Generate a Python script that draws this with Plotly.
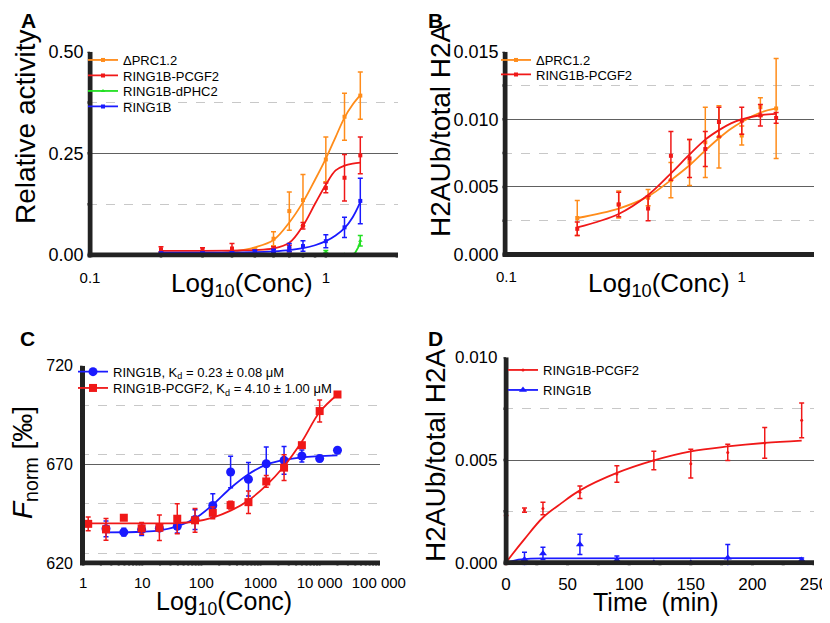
import math
import plotly.graph_objects as go

# ---------------- Panel A : relative activity ----------------
conc_a = [0.2, 0.3, 0.4, 0.5, 0.6, 0.7, 0.8, 1.0, 1.2, 1.4]
prc_a = [0.002, 0.003, 0.005, 0.012, 0.040, 0.108, 0.135, 0.235, 0.340, 0.392]
prc_a_err = [0.004, 0.004, 0.005, 0.006, 0.017, 0.047, 0.063, 0.055, 0.058, 0.058]
pcgf2_a = [0.014, 0.013, 0.016, 0.008, 0.014, 0.016, 0.072, 0.165, 0.190, 0.245]
pcgf2_a_err = [0.006, 0.005, 0.012, 0.004, 0.006, 0.008, 0.008, 0.012, 0.057, 0.045]
dphc2_a = [0.001, 0.001, 0.001, 0.001, 0.001, 0.001, 0.001, 0.008, 0.001, 0.035]
dphc2_a_err = [0.002, 0.002, 0.002, 0.002, 0.002, 0.002, 0.002, 0.003, 0.002, 0.013]
ring1b_a = [0.004, 0.004, 0.005, 0.008, 0.010, 0.018, 0.022, 0.034, 0.068, 0.133]
ring1b_a_err = [0.003, 0.003, 0.003, 0.004, 0.004, 0.010, 0.013, 0.016, 0.025, 0.056]

fit_x_a = [0.2, 0.3, 0.4, 0.5, 0.6, 0.7, 0.8, 0.9, 1.0, 1.1, 1.2, 1.3, 1.4]
prc_fit_a = [0.0, 0.001, 0.008, 0.019, 0.037, 0.080, 0.130, 0.185, 0.237, 0.290, 0.338, 0.370, 0.393]
pcgf2_fit_a = [0.010, 0.010, 0.011, 0.012, 0.016, 0.030, 0.072, 0.126, 0.173, 0.208, 0.220, 0.225, 0.227]
ring1b_fit_a = [0.006, 0.006, 0.006, 0.007, 0.009, 0.012, 0.017, 0.024, 0.034, 0.048, 0.066, 0.093, 0.130]
dphc2_fit_x = [0.2, 1.3, 1.33, 1.37, 1.4]
dphc2_fit_a = [0.002, 0.002, 0.005, 0.018, 0.033]

# ---------------- Panel B : H2AUb / total H2A ----------------
conc_b = [0.2, 0.3, 0.4, 0.5, 0.6, 0.7, 0.8, 1.0, 1.2, 1.4]
prc_b = [0.0027, 0.0037, 0.0042, 0.0055, 0.0068, 0.0083, 0.0087, 0.0088, 0.0109, 0.0108]
prc_b_err = [0.0013, 0.0010, 0.0006, 0.0013, 0.0017, 0.0026, 0.0023, 0.0007, 0.0007, 0.0037]
pcgf2_b = [0.0019, 0.0037, 0.0034, 0.0073, 0.0071, 0.0078, 0.0098, 0.0099, 0.0103, 0.0101]
pcgf2_b_err = [0.0005, 0.0009, 0.0009, 0.0018, 0.0014, 0.0013, 0.0011, 0.0010, 0.0008, 0.0004]

fit_x_b = [0.2, 0.3, 0.4, 0.5, 0.6, 0.7, 0.8, 0.9, 1.0, 1.2, 1.4]
prc_fit_b = [0.0027, 0.0034, 0.0043, 0.0055, 0.0066, 0.0077, 0.0086, 0.0093, 0.0098, 0.0105, 0.0108]
pcgf2_fit_b = [0.0020, 0.0030, 0.0044, 0.0060, 0.0074, 0.0085, 0.0092, 0.0097, 0.0100, 0.0103, 0.0104]

# ---------------- Panel C : MST binding ----------------
conc_c_blue = [2.44, 4.88, 9.77, 19.5, 39.1, 78.1, 156, 312, 625, 1250, 2500, 5000, 10000, 20000]
ring1b_c = [637.3, 635.6, 636.9, 637.6, 638.6, 642.0, 649.1, 666.1, 662.4, 670.3, 672.0, 674.2, 672.9, 677.1]
ring1b_c_err = [4, 2, 3, 1, 3.5, 5, 6, 8, 8.5, 8.5, 7, 3, 1.5, 0]
conc_c_red = [1.22, 2.44, 4.88, 9.77, 19.5, 39.1, 78.1, 156, 312, 625, 1250, 2500, 5000, 10000, 20000]
pcgf2_c = [639.8, 637.0, 642.9, 637.5, 637.8, 642.4, 641.6, 645.4, 649.3, 650.8, 661.3, 668.3, 679.7, 697.0, 705.4]
pcgf2_c_err = [3.5, 5.5, 0, 3, 6.5, 7.6, 6, 3, 2, 5.7, 3, 6.5, 0, 5.6, 1]

fit_x_c_blue = [2.44, 10, 20, 39, 78, 156, 312, 625, 1250, 2500, 5000, 20000]
ring1b_fit_c = [635.5, 635.8, 636.5, 638.5, 642.5, 649.5, 658.0, 665.0, 669.8, 672.2, 673.5, 674.5]
fit_x_c_red = [1.22, 10, 39, 78, 156, 312, 625, 1250, 2500, 5000, 10000, 20000]
pcgf2_fit_c = [640.0, 640.0, 640.2, 641.0, 643.0, 646.5, 651.7, 659.3, 669.0, 681.5, 696.5, 705.4]

# ---------------- Panel D : time course ----------------
time_d = [0, 15, 30, 60, 90, 120, 150, 180, 210, 240]
pcgf2_d = [0.0009, 0.00256, 0.00264, 0.00343, 0.00432, 0.00498, 0.00482, 0.00537, 0.00583, 0.00693]
pcgf2_d_err = [0.0014, 0.0001, 0.0003, 0.0003, 0.0004, 0.00045, 0.0007, 0.0004, 0.00075, 0.00085]
time_d_blue = [15, 30, 60, 90, 120, 150, 180, 240]
ring1b_d = [0.00016, 0.00045, 0.00089, 0.00013, 0.0, 0.0, 0.00024, 0.00013]
ring1b_d_err = [0.00035, 0.0003, 0.00049, 0.0002, 0.0, 0.0, 0.00065, 0.0001]

fit_t_red = [0, 5, 15, 30, 45, 60, 90, 120, 150, 180, 210, 240]
pcgf2_fit_d = [0, 0.0004, 0.00115, 0.0022, 0.0029, 0.00352, 0.00437, 0.00498, 0.00542, 0.00566, 0.00583, 0.00594]
fit_t_blue = [0, 10, 20, 30, 240]
ring1b_fit_d = [0, 0.00015, 0.0002, 0.00021, 0.00022]

# tick positions / labels
log_ticks_a = [0.1, 0.2, 0.3, 0.4, 0.5, 0.6, 0.7, 0.8, 0.9, 1, 2]
log_text_a = ["0.1", "", "", "", "", "", "", "", "", "1", ""]
log_ticks_c = [m * 10 ** k for k in range(0, 5) for m in range(1, 10)] + [100000]
log_text_c = ["1", "10", "100", "1000", "10 000", "100 000"]
yticks_a = [0, 0.125, 0.25, 0.375, 0.5]
yticks_b = [0, 0.0025, 0.005, 0.0075, 0.01, 0.0125, 0.015]
yticks_c = [620, 645, 670, 695, 720]
xticks_d = [0, 25, 50, 75, 100, 125, 150, 175, 200, 225, 250]
yticks_d = [0, 0.0025, 0.005, 0.0075, 0.01]

ORANGE = "#ff8c1a"
RED = "#f01818"
GREEN = "#22e022"
BLUE = "#1a1aff"
AXIS = "#222222"
FONT = "Liberation Sans, Arial, sans-serif"

# the page body has an 8 px margin, so the figure is drawn 8 px in from the window corner
OFF = 8
W, H = 830 - OFF, 623 - OFF
PAD = 2.5  # half the axis-line width; the plot area is widened by this so the line is not clipped


def fx(px):
    return (px - OFF) / W


def fy(py):
    return 1 - (py - OFF) / H


fig = go.Figure()
legends = {}


def add_series(x, y, err, cx, cy, color, name, xa, ya, leg_pos, symbol="square", size=4, shape="spline"):
    # fitted curve
    fig.add_trace(go.Scatter(x=cx, y=cy, mode="lines", line=dict(color=color, width=1.8, shape=shape),
                             xaxis=xa, yaxis=ya, showlegend=False, hoverinfo="skip"))
    # measured points with SD
    fig.add_trace(go.Scatter(x=x, y=y, mode="markers", marker=dict(color=color, size=size, symbol=symbol),
                             error_y=dict(type="data", array=err, color=color, thickness=1.5, width=2.5),
                             xaxis=xa, yaxis=ya, showlegend=False, cliponaxis=False))
    # legend entry (line + marker), one small legend per entry so it can be placed exactly
    key = "legend%d" % (len(legends) + 2)
    legends[key] = leg_pos
    fig.add_trace(go.Scatter(x=[None], y=[None], mode="lines+markers", name=name,
                             line=dict(color=color, width=1.8), marker=dict(color=color, size=size, symbol=symbol),
                             xaxis=xa, yaxis=ya, legend=key))


# plot areas in window pixels (left, right, top, bottom) at the axis minimum / maximum, and axis ranges
panels = {
    "A": dict(box=(90, 398, 51.7, 255), xr=[-1.0, 0.306], yr=[0, 0.5], xlog=True,
              xt=log_ticks_a, yt=yticks_a, tw=2.5, xa="x", ya="y"),
    "B": dict(box=(505, 814, 51.7, 254.5), xr=[-1.006, 0.307], yr=[0, 0.015], xlog=True,
              xt=log_ticks_a, yt=yticks_b, tw=2.5, xa="x2", ya="y2"),
    "C": dict(box=(82.5, 380, 365.7, 562.9), xr=[-0.01, 5.02], yr=[620, 720], xlog=True,
              xt=log_ticks_c, yt=yticks_c, tw=2, xa="x3", ya="y3"),
    "D": dict(box=(506, 814, 357.3, 562.7), xr=[0, 250], yr=[0, 0.010], xlog=False,
              xt=xticks_d, yt=yticks_d, tw=3, xa="x4", ya="y4"),
}
for p in panels.values():
    left, right, top, bottom = p["box"]
    p["sx"] = (right - left) / (p["xr"][1] - p["xr"][0])  # px per axis unit
    p["sy"] = (bottom - top) / (p["yr"][1] - p["yr"][0])
    p["xr_ext"] = [p["xr"][0] - PAD / p["sx"], p["xr"][1]]
    p["yr_ext"] = [p["yr"][0] - PAD / p["sy"], p["yr"][1]]
    p["dom_x"] = [fx(left - PAD), fx(right)]
    p["dom_y"] = [fy(bottom + PAD), fy(top)]


def frame(p, color):
    # thick axis lines drawn as traces on the panel's own axes, ticks as one-sided error bars
    xa, ya = p["xa"], p["ya"]
    to_x = (lambda u: 10 ** u) if p["xlog"] else (lambda u: u)
    x_min, x_lo, x_hi = to_x(p["xr"][0]), to_x(p["xr_ext"][0]), to_x(p["xr"][1])
    y_min, y_lo, y_hi = p["yr"][0], p["yr_ext"][0], p["yr"][1]
    line = dict(color=color, width=2 * PAD)
    common = dict(xaxis=xa, yaxis=ya, showlegend=False, hoverinfo="skip")
    fig.add_trace(go.Scatter(x=[x_min, x_min], y=[y_lo, y_hi], mode="lines", line=line, **common))
    fig.add_trace(go.Scatter(x=[x_lo, x_hi], y=[y_min, y_min], mode="lines", line=line, **common))
    # x ticks: 7 px downwards from the axis line centre
    dy = 7 / p["sy"]
    fig.add_trace(go.Scatter(x=p["xt"], y=[y_min] * len(p["xt"]), mode="markers",
                             marker=dict(size=1, opacity=0), cliponaxis=False,
                             error_y=dict(type="data", symmetric=False, array=[0] * len(p["xt"]),
                                          arrayminus=[dy] * len(p["xt"]), color=color,
                                          thickness=p["tw"], width=0), **common))
    # y ticks: 6 px to the left
    if p["xlog"]:
        dx = x_min * (1 - 10 ** (-6 / p["sx"]))
    else:
        dx = 6 / p["sx"]
    fig.add_trace(go.Scatter(x=[x_min] * len(p["yt"]), y=p["yt"], mode="markers",
                             marker=dict(size=1, opacity=0), cliponaxis=False,
                             error_x=dict(type="data", symmetric=False, array=[0] * len(p["yt"]),
                                          arrayminus=[dx] * len(p["yt"]), color=color, thickness=2.5, width=0),
                             **common))


# legend positions: (left x of legend box, centre y of the entry) in window pixels
add_series(conc_a, prc_a, prc_a_err, fit_x_a, prc_fit_a, ORANGE, "ΔPRC1.2", "x", "y", (83, 60))
add_series(conc_a, pcgf2_a, pcgf2_a_err, fit_x_a, pcgf2_fit_a, RED, "RING1B-PCGF2", "x", "y", (83, 75.5))
add_series(conc_a, dphc2_a, dphc2_a_err, dphc2_fit_x, dphc2_fit_a, GREEN, "RING1B-dPHC2", "x", "y", (83, 91),
           symbol="triangle-up", shape="linear")
add_series(conc_a, ring1b_a, ring1b_a_err, fit_x_a, ring1b_fit_a, BLUE, "RING1B", "x", "y", (83, 106.5))

add_series(conc_b, prc_b, prc_b_err, fit_x_b, prc_fit_b, ORANGE, "ΔPRC1.2", "x2", "y2", (496, 60))
add_series(conc_b, pcgf2_b, pcgf2_b_err, fit_x_b, pcgf2_fit_b, RED, "RING1B-PCGF2", "x2", "y2", (496, 74.5))

add_series(conc_c_blue, ring1b_c, ring1b_c_err, fit_x_c_blue, ring1b_fit_c, BLUE,
           "RING1B, K<sub>d</sub> = 0.23 ± 0.08 μM", "x3", "y3", (73, 371.7), symbol="circle", size=9)
add_series(conc_c_red, pcgf2_c, pcgf2_c_err, fit_x_c_red, pcgf2_fit_c, RED,
           "RING1B-PCGF2, K<sub>d</sub> = 4.10 ± 1.00 μM", "x3", "y3", (73, 388), symbol="square", size=8)

add_series(time_d, pcgf2_d, pcgf2_d_err, fit_t_red, pcgf2_fit_d, RED, "RING1B-PCGF2", "x4", "y4", (503, 370),
           symbol="circle", size=3)
add_series(time_d_blue, ring1b_d, ring1b_d_err, fit_t_blue, ring1b_fit_d, BLUE, "RING1B", "x4", "y4", (503, 390),
           symbol="triangle-up", size=7, shape="linear")

for p in panels.values():
    frame(p, AXIS)

common_axis = dict(showline=False, ticks="", zeroline=False, automargin=False, showgrid=False,
                   tickfont=dict(family=FONT, size=15, color="black"))
ygrid = dict(showgrid=True, gridcolor="#606060", gridwidth=1)


def yminor(step):
    return dict(dtick=step, ticks="", showgrid=True, griddash="dash", gridcolor="#c8c8c8", gridwidth=1)


pA, pB, pC, pD = panels["A"], panels["B"], panels["C"], panels["D"]
fig.update_layout(
    template="none",
    width=W, height=H, margin=dict(l=0, r=0, t=0, b=0, pad=0),
    paper_bgcolor="white", plot_bgcolor="white", showlegend=True,
    font=dict(family=FONT, color="black"),
    xaxis=dict(common_axis, domain=pA["dom_x"], type="log", range=pA["xr_ext"], anchor="y",
               tickvals=log_ticks_a, ticktext=log_text_a, ticklabelstandoff=9),
    yaxis=dict(common_axis, domain=pA["dom_y"], range=pA["yr_ext"], anchor="x",
               tick0=0, dtick=0.25, tickformat=".2f", tickfont=dict(size=18), ticklabelstandoff=3,
               **ygrid, minor=yminor(0.125)),
    xaxis2=dict(common_axis, domain=pB["dom_x"], type="log", range=pB["xr_ext"], anchor="y2",
                tickvals=log_ticks_a, ticktext=log_text_a, ticklabelstandoff=9),
    yaxis2=dict(common_axis, domain=pB["dom_y"], range=pB["yr_ext"], anchor="x2",
                tick0=0, dtick=0.005, tickformat=".3f", tickfont=dict(size=18), ticklabelstandoff=3,
                **ygrid, minor=yminor(0.0025)),
    xaxis3=dict(common_axis, domain=pC["dom_x"], type="log", range=pC["xr_ext"], anchor="y3",
                tickvals=log_ticks_c,
                ticktext=[log_text_c[i // 9] if i % 9 == 0 else "" for i in range(len(log_ticks_c))],
                ticklabelstandoff=7),
    yaxis3=dict(common_axis, domain=pC["dom_y"], range=pC["yr_ext"], anchor="x3",
                tick0=620, dtick=50, tickfont=dict(size=16), ticklabelstandoff=6,
                **ygrid, minor=yminor(25)),
    xaxis4=dict(common_axis, domain=pD["dom_x"], range=pD["xr_ext"], anchor="y4",
                tick0=0, dtick=50, tickfont=dict(size=17), ticklabelstandoff=7),
    yaxis4=dict(common_axis, domain=pD["dom_y"], range=pD["yr_ext"], anchor="x4",
                tick0=0, dtick=0.005, tickformat=".3f", tickfont=dict(size=17), ticklabelstandoff=5,
                **ygrid, minor=yminor(0.0025)),
)

for key, (lx, ly) in legends.items():
    fig.update_layout({key: dict(bgcolor="rgba(0,0,0,0)", borderwidth=0,
                                 font=dict(family=FONT, size=13, color="black"),
                                 x=fx(lx), y=fy(ly), xanchor="left", yanchor="middle",
                                 itemwidth=30, tracegroupgap=0)})
fig.update_layout(legend=dict(visible=False))

# panel letters and axis titles (window pixels)
notes = [
    ("<b>A</b>", 28, 20, 21, 0),
    ("<b>B</b>", 435, 20, 21, 0),
    ("<b>C</b>", 27, 338, 21, 0),
    ("<b>D</b>", 435, 338, 21, 0),
    ("Relative activity", 26, 127, 28, -90),
    ("Log<sub>10</sub>(Conc)", 242, 284, 26, 0),
    ("H2AUb/total H2A", 440, 130, 28, -90),
    ("Log<sub>10</sub>(Conc)", 659, 284, 26, 0),
    ("<i>F</i><sub>norm</sub> [‰]", 24, 463, 28, -90),
    ("Log<sub>10</sub>(Conc)", 224, 603, 25, 0),
    ("H2AUb/total H2A", 435, 455, 28, -90),
    ("Time\u00a0 (min)", 655, 602, 25, 0),
]
for text, x, y, size, ang in notes:
    fig.add_annotation(text=text, x=fx(x), y=fy(y), xref="paper", yref="paper", showarrow=False,
                       xanchor="center", yanchor="middle", textangle=ang,
                       font=dict(family=FONT, size=size, color="black"))

fig.write_html("out.html")
